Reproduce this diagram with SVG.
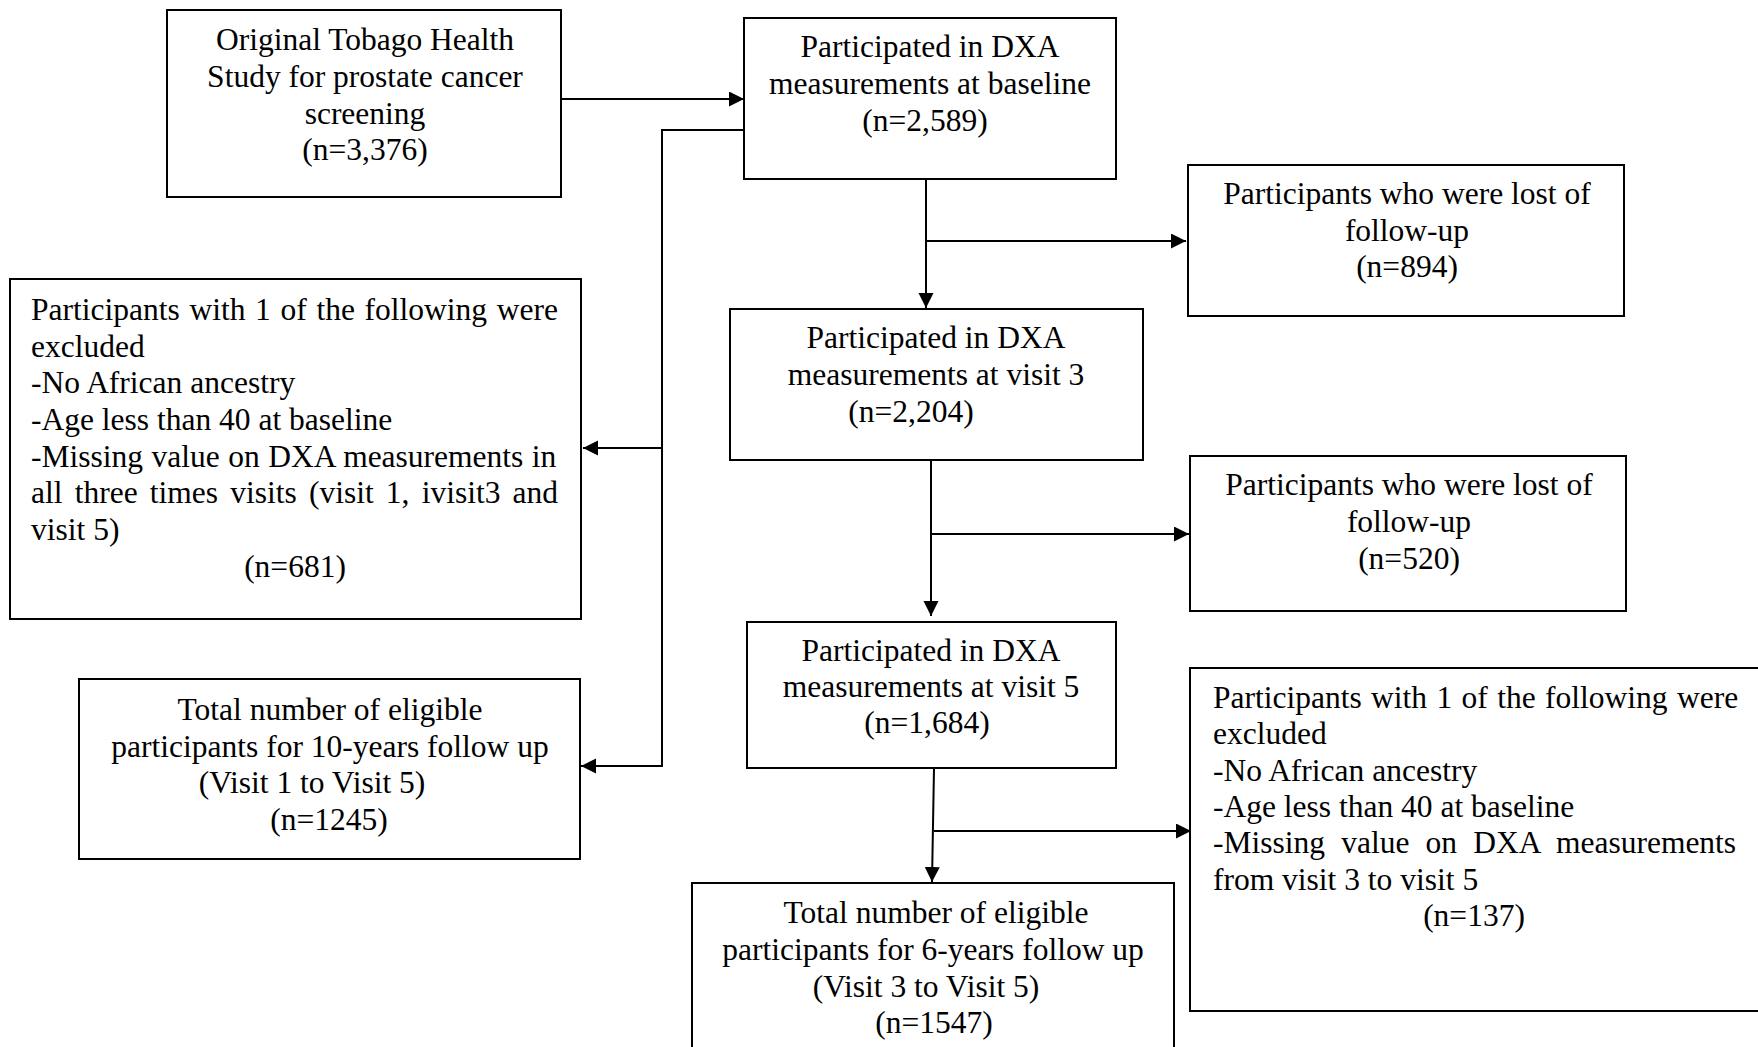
<svg xmlns="http://www.w3.org/2000/svg" width="1758" height="1047" viewBox="0 0 1758 1047">
<style>
  .box { fill: #ffffff; stroke: #000000; stroke-width: 2; }
  text { font-family: "Liberation Serif", "Times New Roman", serif; font-size: 31.5px; fill: #000000; }
  .c { text-anchor: middle; }
  .conn { fill: none; stroke: #000000; stroke-width: 2; }
</style>
<defs>
  <marker id="arr" markerUnits="userSpaceOnUse" markerWidth="16" markerHeight="16" refX="15" refY="7.5" orient="auto">
    <path d="M0,0 L15,7.5 L0,15 z" fill="#000000"/>
  </marker>
</defs>
<rect width="1758" height="1047" fill="#ffffff"/>

<g id="connectors">
  <line class="conn" x1="561" y1="99" x2="744" y2="99" marker-end="url(#arr)"/>
  <polyline class="conn" points="744,130 662,130 662,766 581,766" marker-end="url(#arr)"/>
  <line class="conn" x1="662" y1="448" x2="583" y2="448" marker-end="url(#arr)"/>
  <line class="conn" x1="926" y1="179" x2="926" y2="308" marker-end="url(#arr)"/>
  <line class="conn" x1="926" y1="241" x2="1186" y2="241" marker-end="url(#arr)"/>
  <line class="conn" x1="931" y1="460" x2="931" y2="616" marker-end="url(#arr)"/>
  <line class="conn" x1="931" y1="534" x2="1189" y2="534" marker-end="url(#arr)"/>
  <line class="conn" x1="934" y1="768" x2="932" y2="882" marker-end="url(#arr)"/>
  <line class="conn" x1="934" y1="831" x2="1191" y2="831" marker-end="url(#arr)"/>
</g>

<g id="node-original">
  <rect class="box" x="167" y="10" width="394" height="187"/>
  <text class="c" x="365" y="50">Original Tobago Health</text>
  <text class="c" x="365" y="87">Study for prostate cancer</text>
  <text class="c" x="365" y="124">screening</text>
  <text class="c" x="365" y="160">(n=3,376)</text>
</g>

<g id="node-baseline">
  <rect class="box" x="744" y="18" width="372" height="161"/>
  <text class="c" x="930" y="57">Participated in DXA</text>
  <text class="c" x="930" y="94">measurements at baseline</text>
  <text class="c" x="925" y="131">(n=2,589)</text>
</g>

<g id="node-lost894">
  <rect class="box" x="1188" y="165" width="436" height="151"/>
  <text class="c" x="1407" y="204">Participants who were lost of</text>
  <text class="c" x="1407" y="241">follow-up</text>
  <text class="c" x="1407" y="277">(n=894)</text>
</g>

<g id="node-excluded681">
  <rect class="box" x="10" y="279" width="571" height="340"/>
  <text x="31" y="320" style="word-spacing:1.8px">Participants with 1 of the following were</text>
  <text x="31" y="357">excluded</text>
  <text x="31" y="393">-No African ancestry</text>
  <text x="31" y="430">-Age less than 40 at baseline</text>
  <text x="31" y="467" style="word-spacing:0.6px">-Missing value on DXA measurements in</text>
  <text x="31" y="503" style="word-spacing:4.3px">all three times visits (visit 1, ivisit3 and</text>
  <text x="31" y="540">visit 5)</text>
  <text class="c" x="295" y="577">(n=681)</text>
</g>

<g id="node-visit3">
  <rect class="box" x="730" y="309" width="413" height="151"/>
  <text class="c" x="936" y="348">Participated in DXA</text>
  <text class="c" x="936" y="385">measurements at visit 3</text>
  <text class="c" x="911" y="422">(n=2,204)</text>
</g>

<g id="node-lost520">
  <rect class="box" x="1190" y="456" width="436" height="155"/>
  <text class="c" x="1409" y="495">Participants who were lost of</text>
  <text class="c" x="1409" y="532">follow-up</text>
  <text class="c" x="1409" y="569">(n=520)</text>
</g>

<g id="node-eligible10">
  <rect class="box" x="79" y="679" width="501" height="180"/>
  <text class="c" x="330" y="720">Total number of eligible</text>
  <text class="c" x="330" y="757">participants for 10-years follow up</text>
  <text class="c" x="312" y="793">(Visit 1 to Visit 5)</text>
  <text class="c" x="329" y="830">(n=1245)</text>
</g>

<g id="node-visit5">
  <rect class="box" x="747" y="622" width="369" height="146"/>
  <text class="c" x="931" y="661">Participated in DXA</text>
  <text class="c" x="931" y="697">measurements at visit 5</text>
  <text class="c" x="927" y="733">(n=1,684)</text>
</g>

<g id="node-excluded137">
  <rect class="box" x="1190" y="668" width="575" height="343"/>
  <text x="1213" y="708" style="word-spacing:1.5px">Participants with 1 of the following were</text>
  <text x="1213" y="744">excluded</text>
  <text x="1213" y="781">-No African ancestry</text>
  <text x="1213" y="817">-Age less than 40 at baseline</text>
  <text x="1213" y="853" style="word-spacing:8.3px">-Missing value on DXA measurements</text>
  <text x="1213" y="890">from visit 3 to visit 5</text>
  <text class="c" x="1474" y="926">(n=137)</text>
</g>

<g id="node-eligible6">
  <rect class="box" x="692" y="883" width="482" height="172"/>
  <text class="c" x="936" y="923">Total number of eligible</text>
  <text class="c" x="933" y="960">participants for 6-years follow up</text>
  <text class="c" x="926" y="997">(Visit 3 to Visit 5)</text>
  <text class="c" x="934" y="1033">(n=1547)</text>
</g>
</svg>
